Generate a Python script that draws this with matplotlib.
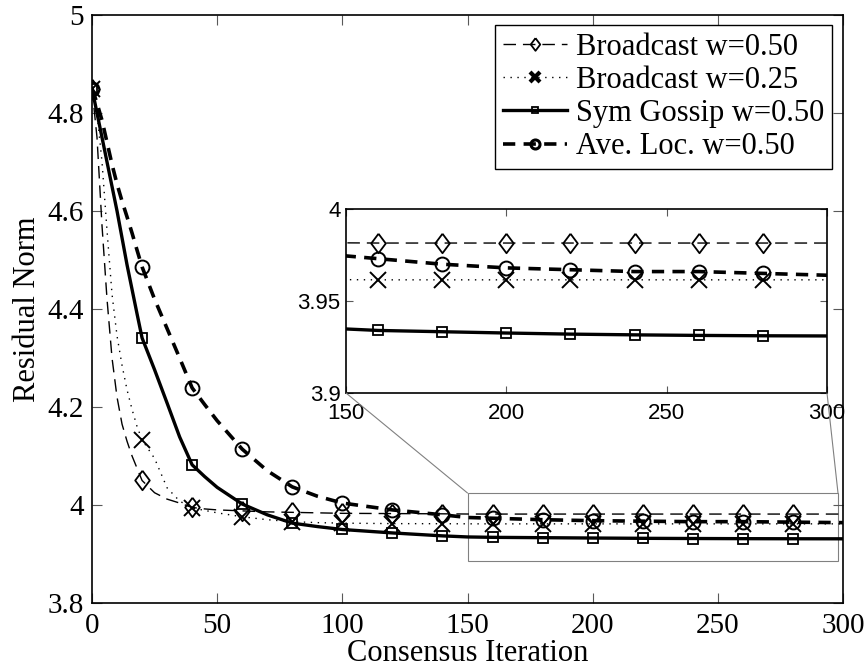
import matplotlib
matplotlib.use("Agg")
import matplotlib.pyplot as plt
import matplotlib.patches as patches
from matplotlib.patches import ConnectionPatch
import numpy as np

# data
iters = [0, 2, 4, 6, 8, 10, 12, 14, 16, 18, 20, 25, 30, 35, 40, 45, 50, 60, 70,
         80, 90, 100, 120, 140, 150, 160, 180, 200, 220, 240, 260, 280, 300]

bc50 = [4.85, 4.75, 4.57, 4.42, 4.30, 4.22, 4.165, 4.13, 4.10, 4.075, 4.050,
        4.025, 4.012, 4.004, 3.995, 3.992, 3.990, 3.988, 3.986, 3.985, 3.984,
        3.983, 3.9825, 3.982, 3.9816, 3.9815, 3.9815, 3.9815, 3.9815, 3.9815,
        3.9815, 3.9815, 3.9815]

bc25 = [4.85, 4.80, 4.70, 4.56, 4.43, 4.345, 4.285, 4.235, 4.195, 4.16, 4.133,
        4.095, 4.035, 4.008, 3.994, 3.989, 3.984, 3.976, 3.970, 3.966, 3.964,
        3.963, 3.962, 3.9618, 3.9616, 3.9615, 3.9615, 3.9615, 3.9615, 3.9615,
        3.9615, 3.9615, 3.9615]

gossip = [4.85, 4.80, 4.75, 4.70, 4.65, 4.60, 4.545, 4.49, 4.44, 4.39, 4.341,
          4.276, 4.208, 4.139, 4.082, 4.058, 4.036, 4.002, 3.980, 3.963, 3.956,
          3.950, 3.943, 3.937, 3.9348, 3.934, 3.9333, 3.9326, 3.932, 3.9316,
          3.9313, 3.9311, 3.931]

aveloc = [4.85, 4.82, 4.785, 4.74, 4.695, 4.655, 4.62, 4.588, 4.555, 4.52, 4.486,
          4.42, 4.36, 4.30, 4.239, 4.205, 4.172, 4.114, 4.070, 4.037, 4.018,
          4.004, 3.990, 3.980, 3.9745, 3.973, 3.970, 3.968, 3.967, 3.966,
          3.966, 3.965, 3.964]

labels = ["Broadcast w=0.50", "Broadcast w=0.25", "Sym Gossip w=0.50", "Ave. Loc. w=0.50"]

xticks = [0, 50, 100, 150, 200, 250, 300]
yticks = [3.8, 4.0, 4.2, 4.4, 4.6, 4.8, 5.0]
ytick_labels = ["3.8", "4", "4.2", "4.4", "4.6", "4.8", "5"]
inset_xticks = [150, 200, 250, 300]
inset_yticks = [3.9, 3.95, 4.0]
inset_ytick_labels = ["3.9", "3.95", "4"]

# markers every 20 iterations
mark_idx = [i for i, v in enumerate(iters) if v % 20 == 0 and v < 300]

serif = ["Liberation Serif", "DejaVu Serif"]
sans = ["Liberation Sans", "DejaVu Sans"]

diamond = [(0, 1), (0.75, 0), (0, -1), (-0.75, 0), (0, 1)]

styles = [
    dict(color="k", lw=1.0, linestyle=(0, (9, 5)), marker=diamond, ms=14,
         mfc="none", mec="k", mew=1.3),
    dict(color="k", lw=1.0, linestyle=(0, (1, 4)), marker="x", ms=12,
         mfc="none", mec="k", mew=1.4),
    dict(color="k", lw=2.4, linestyle="-", marker="s", ms=7.5,
         mfc="none", mec="k", mew=1.3),
    dict(color="k", lw=2.6, linestyle=(0, (3.4, 2.3)), marker="o", ms=10,
         mfc="none", mec="k", mew=1.4),
]
series = [bc50, bc25, gossip, aveloc]

fig = plt.figure(figsize=(8.67, 6.71), dpi=100)
ax = fig.add_axes([92 / 867, 1 - 603 / 671, 751 / 867, 588 / 671])

for vals, st, lab in zip(series, styles, labels):
    ax.plot(iters, vals, markevery=mark_idx, label=lab, **st)

ax.set_xlim(0, 300)
ax.set_ylim(3.8, 5.0)
ax.set_xticks(xticks)
ax.set_xticklabels([str(t) for t in xticks], family=serif, fontsize=21)
ax.set_yticks(yticks)
ax.set_yticklabels(ytick_labels, family=serif, fontsize=21)
ax.tick_params(axis="both", which="both", direction="in", length=7, width=0.8,
               color="0.35", top=True, right=True)
ax.tick_params(axis="x", pad=7)
ax.tick_params(axis="y", pad=6)
for s in ax.spines.values():
    s.set_linewidth(1.2)

ax.set_xlabel("Consensus Iteration", family=serif, fontsize=22, labelpad=0)
ax.set_ylabel("Residual Norm", family=serif, fontsize=22, labelpad=4)

leg = ax.legend(loc="upper right", bbox_to_anchor=(0.9854, 0.983),
                prop={"family": serif, "size": 22}, frameon=True, fancybox=False,
                edgecolor="k", framealpha=1, handlelength=2.1, handletextpad=0.3,
                labelspacing=0.14, borderpad=0.25, borderaxespad=0,
                markerscale=0.65)
leg.get_frame().set_linewidth(1.0)
leg.legend_handles[1].set_markeredgewidth(3.0)
leg.legend_handles[3].set_markeredgewidth(2.2)

# zoom rectangle in main axes
rx0, rx1, ry0, ry1 = 150, 298, 3.886, 4.0245
rect = patches.Rectangle((rx0, ry0), rx1 - rx0, ry1 - ry0, linewidth=0.8,
                         edgecolor="0.5", facecolor="none", zorder=1)
ax.add_patch(rect)

# inset
axin = fig.add_axes([346 / 867, 1 - 393 / 671, 481 / 867, 184 / 671])
for vals, st in zip(series, styles):
    axin.plot(iters, vals, markevery=mark_idx, **st)
axin.set_xlim(150, 300)
axin.set_ylim(3.9, 4.0)
axin.set_xticks(inset_xticks)
axin.set_xticklabels([str(t) for t in inset_xticks], family=sans, fontsize=16)
axin.set_yticks(inset_yticks)
axin.set_yticklabels(inset_ytick_labels, family=sans, fontsize=16)
axin.tick_params(axis="both", direction="in", length=5, width=0.8, color="0.35",
                 top=True, right=True, pad=4)
axin.tick_params(axis="x", pad=7)
for s in axin.spines.values():
    s.set_linewidth(1.2)

for (xa, xb) in [((rx0, ry1), (0, 0)), ((rx1, ry1), (1, 0))]:
    con = ConnectionPatch(xyA=xa, coordsA=ax.transData, xyB=xb,
                          coordsB=axin.transAxes, color="0.5", linewidth=0.8)
    fig.add_artist(con)

fig.savefig("out.png", dpi=100)
